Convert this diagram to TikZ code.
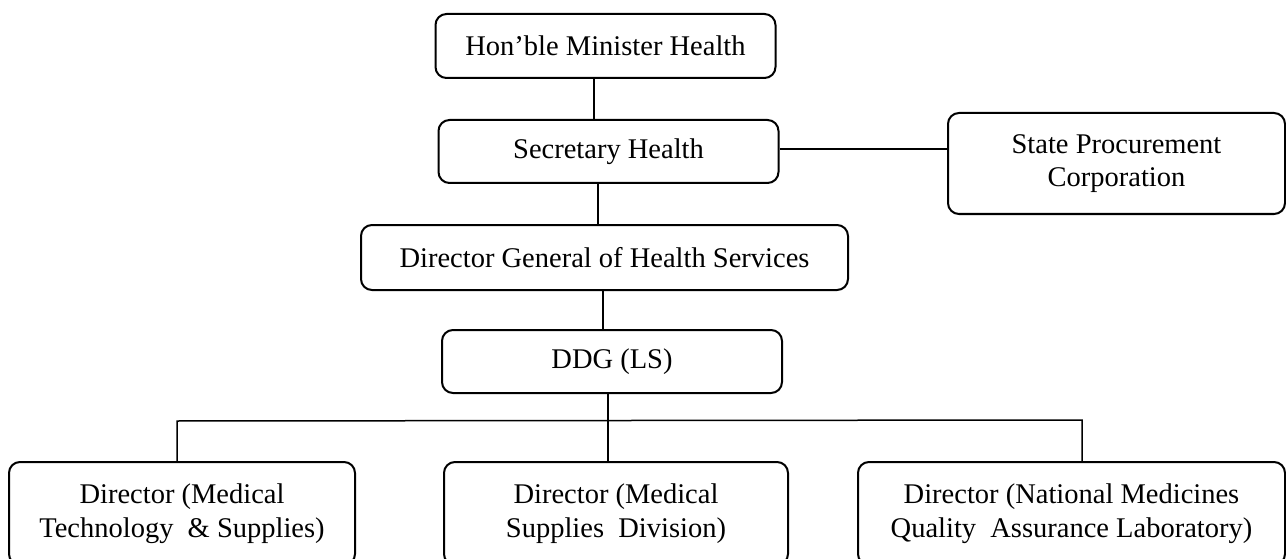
\documentclass[tikz,border=0pt]{standalone}
\usepackage{fontspec}
\setmainfont{Liberation Serif}
\begin{document}
\begin{tikzpicture}[x=1pt,y=-1pt,
  box/.style={draw=black, line width=2pt, rounded corners=11pt, fill=white,
    align=center, inner sep=0pt, font=\fontsize{28.5}{33.5}\selectfont},
  link/.style={draw=black, line width=1.5pt}]
\useasboundingbox (0,0) rectangle (1286,559);
\clip (0,0) rectangle (1286,559);
\fill[white] (0,0) rectangle (1286,559);

\node[box, minimum width=340pt, minimum height=64pt] (min) at (605.5,46) {Hon’ble Minister Health};
\node[box, minimum width=340pt, minimum height=63pt] (sec) at (608.5,151.5) {Secretary Health};
\node[box, minimum width=337pt, minimum height=101pt] (spc) at (1116.5,163.5) {State Procurement\\Corporation};
\node[box, minimum width=487pt, minimum height=65pt] (dg) at (604.5,257.5) {Director General of Health Services};
\node[box, minimum width=340pt, minimum height=63pt] (ddg) at (612,361.5) {DDG (LS)};
\node[box, minimum width=346pt, minimum height=103pt] (l1) at (182,513.5) {Director (Medical\\Technology \ \& Supplies)};
\node[box, minimum width=344pt, minimum height=103pt] (l2) at (616,513.5) {Director (Medical\\Supplies \ Division)};
\node[box, minimum width=427pt, minimum height=103pt] (l3) at (1071.5,513.5) {Director (National Medicines\\Quality \ Assurance Laboratory)};

\coordinate (x1) at (594,0);
\coordinate (x2) at (598,0);
\coordinate (x3) at (603,0);
\coordinate (x4) at (608,0);
\coordinate (busL) at (177,421);
\coordinate (busR) at (1082,420);
\coordinate (busM) at (608,421);

\draw[link] (min.south -| x1) -- (sec.north -| x1);
\draw[link] (sec.south -| x2) -- (dg.north -| x2);
\draw[link] (dg.south -| x3) -- (ddg.north -| x3);
\draw[link] (sec.east |- 0,149) -- (spc.west |- 0,149);
\draw[link] (ddg.south -| x4) -- (l2.north -| x4);
\draw[link] (l1.north -| busL) -- (busL) -- (busR) -- (l3.north -| busR);
\end{tikzpicture}
\end{document}
